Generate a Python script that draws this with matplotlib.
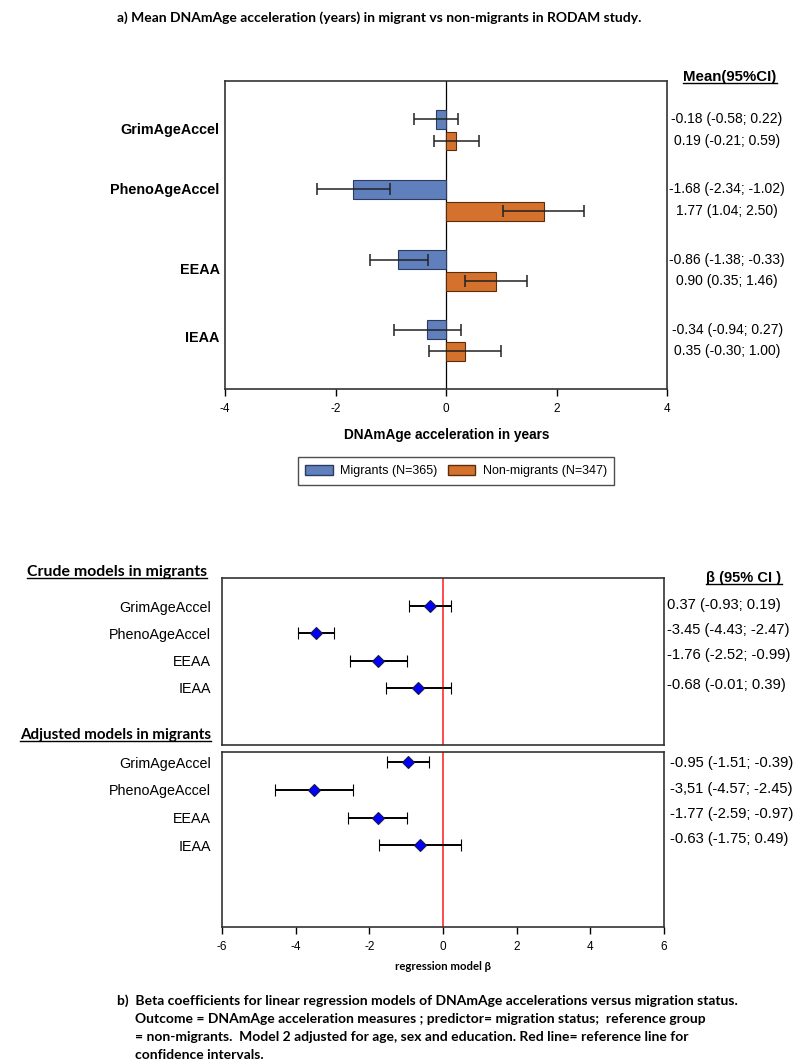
import matplotlib
matplotlib.use('Agg')
import matplotlib.pyplot as plt
from matplotlib.patches import Patch
from matplotlib.lines import Line2D

# Panel a: mean DNAmAge acceleration with 95% CI
clocks = ['GrimAgeAccel', 'PhenoAgeAccel', 'EEAA', 'IEAA']
mig_mean = [-0.18, -1.68, -0.86, -0.34]
mig_lo = [-0.58, -2.34, -1.38, -0.94]
mig_hi = [0.22, -1.02, -0.33, 0.27]
non_mean = [0.19, 1.77, 0.90, 0.35]
non_lo = [-0.21, 1.04, 0.35, -0.30]
non_hi = [0.59, 2.50, 1.46, 1.00]
legend_labels = ['Migrants (N=365)', 'Non-migrants (N=347)']

# Panel b: regression betas (as drawn) and the printed estimates
crude_beta = [-0.35, -3.45, -1.77, -0.68]
crude_lo = [-0.92, -3.94, -2.53, -1.55]
crude_hi = [0.22, -2.97, -0.98, 0.22]
crude_text = ['0.37 (-0.93; 0.19)', '-3.45 (-4.43; -2.47)',
              '-1.76 (-2.52; -0.99)', '-0.68 (-0.01; 0.39)']
adj_beta = [-0.95, -3.51, -1.77, -0.63]
adj_lo = [-1.51, -4.57, -2.59, -1.75]
adj_hi = [-0.39, -2.45, -0.97, 0.49]
adj_text = ['-0.95 (-1.51; -0.39)', '-3,51 (-4.57; -2.45)',
            '-1.77 (-2.59; -0.97)', '-0.63 (-1.75; 0.49)']

caption = ['b)  Beta coefficients for linear regression models of DNAmAge accelerations versus migration status.',
           'Outcome = DNAmAge acceleration measures ; predictor= migration status;  reference group',
           '= non-migrants.  Model 2 adjusted for age, sex and education. Red line= reference line for',
           'confidence intervals.']
# -------

W, H = 800, 1062
CAL = 'Lato'
plt.rcParams['font.family'] = 'Liberation Sans'
plt.rcParams['axes.unicode_minus'] = False

fig = plt.figure(figsize=(W / 100, H / 100), dpi=100)


def add_ax(l, t, r, b):
    return fig.add_axes([l / W, 1 - b / H, (r - l) / W, (b - t) / H])


def ftext(x, y, s, **kw):
    return fig.text(x / W, 1 - y / H, s, **kw)


def style_box(ax):
    for sp in ax.spines.values():
        sp.set_linewidth(1.2)
        sp.set_color('#333333')


underlined = []

# ---- panel a
ftext(117, 18, 'a) Mean DNAmAge acceleration (years) in migrant vs non-migrants in RODAM study.',
      family=CAL, fontweight='bold', fontsize=10, va='center')

ax = add_ax(225, 81, 667, 389)
y = list(range(len(clocks)))
off = 0.155
y_m = [v - off for v in y]
y_n = [v + off for v in y]
blue, orange = '#5f7fbd', '#d4722d'
ax.barh(y_m, mig_mean, height=0.27, color=blue, edgecolor='#2c3b5e', linewidth=0.8, zorder=2)
ax.barh(y_n, non_mean, height=0.27, color=orange, edgecolor='#5a2d0c', linewidth=0.8, zorder=2)
ax.errorbar(mig_mean, y_m, xerr=[[m - l for m, l in zip(mig_mean, mig_lo)], [h - m for m, h in zip(mig_mean, mig_hi)]],
            fmt='none', ecolor='#222222', elinewidth=1.1, capsize=4, capthick=1.1, zorder=3)
ax.errorbar(non_mean, y_n, xerr=[[m - l for m, l in zip(non_mean, non_lo)], [h - m for m, h in zip(non_mean, non_hi)]],
            fmt='none', ecolor='#222222', elinewidth=1.1, capsize=4, capthick=1.1, zorder=3)
ax.axvline(0, color='black', lw=0.9, zorder=1)
ax.set_xlim(-4, 4)
ax.set_ylim(3.69, -0.7)
ax.set_xticks([-4, -2, 0, 2, 4])
ax.set_yticks([])
ax.tick_params(axis='x', direction='out', length=5, width=1, labelsize=8.5, pad=5)
style_box(ax)
label_shift = [0, -0.14, 0, -0.03]
for i, name in enumerate(clocks):
    ax.text(-0.012, y[i] + label_shift[i], name, transform=ax.get_yaxis_transform(),
            ha='right', va='center', fontsize=10.4, fontweight='bold')
    ax.text(1.136, y_m[i], f'{mig_mean[i]:.2f} ({mig_lo[i]:.2f}; {mig_hi[i]:.2f})',
            transform=ax.get_yaxis_transform(), ha='center', va='center', fontsize=10)
    ax.text(1.136, y_n[i], f'{non_mean[i]:.2f} ({non_lo[i]:.2f}; {non_hi[i]:.2f})',
            transform=ax.get_yaxis_transform(), ha='center', va='center', fontsize=10)
underlined.append(ftext(730, 77, 'Mean(95%CI)', fontweight='bold', fontsize=10.8, ha='center', va='center'))
ftext(447, 435, 'DNAmAge acceleration in years', fontweight='bold', fontsize=9.8, ha='center', va='center')

handles = [Patch(facecolor=blue, edgecolor='#2c3b5e'), Patch(facecolor=orange, edgecolor='#5a2d0c')]
fig.legend(handles, legend_labels, loc='center', bbox_to_anchor=(456 / W, 1 - 471 / H), ncol=2,
           frameon=True, fancybox=False, edgecolor='#222222', fontsize=9, handlelength=2.2,
           handleheight=0.8, columnspacing=0.8, handletextpad=0.6, borderpad=0.6)

# ---- panel b


def forest(ax, beta, lo, hi, texts, text_x, text_y, ylim):
    yy = list(range(len(clocks)))
    ax.axvline(0, color='#ff4a4a', lw=1.4, zorder=1)
    ax.errorbar(beta, yy, xerr=[[b - l for b, l in zip(beta, lo)], [h - b for b, h in zip(beta, hi)]],
                fmt='D', color='black', mfc='#0000ff', mec='#1a1a40', ms=6.5, mew=0.8,
                elinewidth=1.4, capsize=4.5, capthick=1.4, zorder=3)
    ax.set_xlim(-6, 6)
    ax.set_ylim(*ylim)
    ax.set_yticks(yy)
    ax.set_yticklabels(clocks, fontsize=10.3)
    ax.tick_params(axis='y', length=0, pad=8)
    style_box(ax)
    for t, ty in zip(texts, text_y):
        ftext(text_x, ty, t, ha='left', va='center', fontsize=10.6)


ax_c = add_ax(222, 578, 664, 745)
forest(ax_c, crude_beta, crude_lo, crude_hi, crude_text, 667, [605, 630, 655, 685], (5.09, -1.03))
ax_c.set_xticks([])

ax_d = add_ax(222, 752, 664, 927)
forest(ax_d, adj_beta, adj_lo, adj_hi, adj_text, 670, [763, 789, 814, 839], (5.95, -0.37))
ax_d.set_xticks([-6, -4, -2, 0, 2, 4, 6])
ax_d.tick_params(axis='x', direction='out', length=5, width=1, labelsize=8.5, pad=5)

underlined.append(ftext(27, 572, 'Crude models in migrants', family=CAL, fontweight='bold', fontsize=11.4, va='center'))
underlined.append(ftext(20, 735, 'Adjusted models in migrants', family=CAL, fontweight='bold', fontsize=10.9, va='center'))
underlined.append(ftext(744, 578, 'β (95% CI )', fontweight='bold', fontsize=10.5, ha='center', va='center'))
ftext(443, 967, 'regression model β', family=CAL, fontweight='bold', fontsize=8.2, ha='center', va='center')

for i, line in enumerate(caption):
    ftext(117 if i == 0 else 135, 1001 + 18 * i, line, family=CAL, fontweight='bold', fontsize=10, va='center')

# underline the headings
fig.canvas.draw()
for t in underlined:
    bb = t.get_window_extent()
    yl = (bb.y0 + 1) / H
    fig.add_artist(Line2D([bb.x0 / W, bb.x1 / W], [yl, yl], color='black', lw=1.0))

fig.savefig('out.png', dpi=100)
